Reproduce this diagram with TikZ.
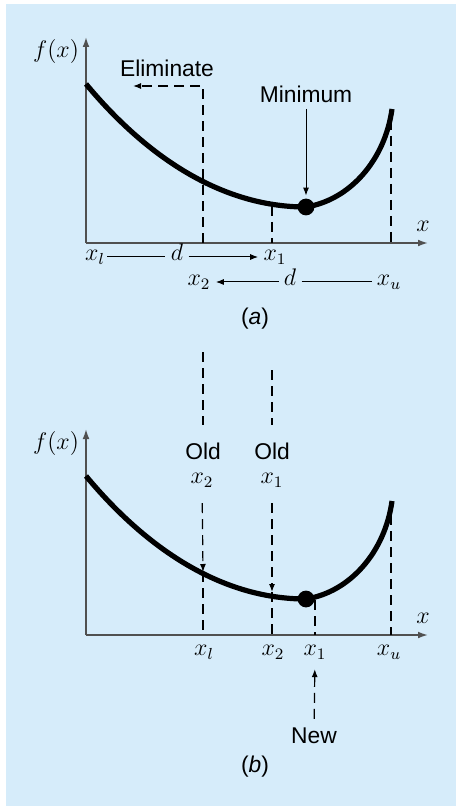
\documentclass[tikz,border=0pt]{standalone}
\usepackage{fontspec}
\setsansfont{Liberation Sans}
\usetikzlibrary{arrows.meta}
\definecolor{panel}{RGB}{214,236,250}
\definecolor{axis}{RGB}{80,80,80}

\begin{document}
\begin{tikzpicture}[x=0.5pt,y=-0.5pt,
    ax/.style={-{Latex[length=5pt,width=3.4pt]},line width=0.8pt,axis},
    crv/.style={line width=2.6pt,black},
    dsh/.style={dash pattern=on 5pt off 3pt,line width=0.6pt,black},
    thn/.style={line width=0.5pt,black},
    tip/.style={-{Latex[length=4pt,width=3pt]}},
    dot/.style={circle,fill=black,inner sep=0pt,minimum size=8.4pt},
    lbl/.style={font=\sffamily\fontsize{11.4}{13}\selectfont,inner sep=1pt},
    mth/.style={font=\fontsize{12}{14}\selectfont,inner sep=2.5pt,
                text height=6.5pt,text depth=2.8pt},
    pnl/.style={font=\sffamily\fontsize{11.4}{13}\selectfont}]

    \useasboundingbox (0,0) rectangle (456,806);
    \fill[white] (0,0) rectangle (456,806);
    \fill[panel] (6,4) rectangle (456,806);

    % (a)
    \coordinate (oa) at (86,243);
    \coordinate (ya) at (86,37);
    \coordinate (xa) at (428,243);
    \draw[ax] (oa) -- (ya);
    \draw[ax] (oa) -- (xa);
    \node[mth] (fa) at (56,54) {$f(x)$};
    \node[mth] (xxa) at (423,228) {$x$};

    \coordinate (e0) at (203,243);
    \coordinate (etip) at (133,86);
    \draw[dsh,tip] (e0) |- (etip);
    \coordinate (k1) at (272,206);
    \coordinate (k1b) at (272,243);
    \draw[dsh] (k1) -- (k1b);
    \coordinate (u0) at (391,120);
    \coordinate (u0b) at (391,243);
    \draw[dsh] (u0) -- (u0b);

    \coordinate (a0) at (86,84);
    \coordinate (a1) at (392,109);
    \node[dot] (mina) at (306,207) {};
    \draw[crv] (a0) .. controls (145,155) and (220,207) .. (mina.center)
        .. controls (350,200) and (385,160) .. (a1);

    \node[lbl] (elim) at (167,68) {Eliminate};
    \node[lbl] (mini) at (306,94) {Minimum};
    \draw[thn,tip,shorten <=2pt,shorten >=1.3pt] (mini) -- (mina);

    \node[mth,inner sep=1pt] (xl) at (95,257) {$x_l$};
    \node[mth] (d1) at (177,257) {$d$};
    \node[mth] (x1) at (275,257) {$x_1$};
    \draw[thn] (xl) -- (d1);
    \draw[thn,tip] (d1) -- (x1);
    \node[mth] (x2) at (199,282) {$x_2$};
    \node[mth] (d2) at (290,282) {$d$};
    \node[mth] (xu) at (389,282) {$x_u$};
    \draw[thn,tip] (d2) -- (x2);
    \draw[thn] (d2) -- (xu);

    \node[pnl] (capa) at (255,319) {(\textit{a})};

    % (b)
    \coordinate (ob) at (86,635);
    \coordinate (yb) at (86,429);
    \coordinate (xb) at (428,635);
    \draw[ax] (ob) -- (yb);
    \draw[ax] (ob) -- (xb);
    \node[mth] (fb) at (56,446) {$f(x)$};
    \node[mth] (xxb) at (423,620) {$x$};

    \coordinate (t2) at (203,352);
    \node[lbl] (old2) at (203,451) {Old};
    \node[mth] (o2) at (202,480) {$x_2$};
    \coordinate (c2) at (203,572);
    \coordinate (b2) at (203,635);
    \draw[dsh,shorten >=7.4pt] (t2) -- (old2);
    \draw[dsh,tip,shorten <=4.2pt] (o2) -- (c2);
    \draw[dsh] (c2) -- (b2);

    \coordinate (t1) at (272,370);
    \node[lbl] (old1) at (272,451) {Old};
    \node[mth] (o1) at (272,480) {$x_1$};
    \coordinate (c1) at (272,592);
    \coordinate (b1) at (272,635);
    \draw[dsh,shorten >=7.4pt] (t1) -- (old1);
    \draw[dsh,tip,shorten <=4.2pt] (o1) -- (c1);
    \draw[dsh] (c1) -- (b1);

    \coordinate (n0) at (315,600);
    \coordinate (n0b) at (315,635);
    \draw[dsh] (n0) -- (n0b);
    \coordinate (v0) at (391,515);
    \coordinate (v0b) at (391,635);
    \draw[dsh] (v0) -- (v0b);

    \coordinate (b0) at (86,476);
    \coordinate (bb1) at (392,501);
    \node[dot] (minb) at (306,599) {};
    \draw[crv] (b0) .. controls (145,547) and (220,599) .. (minb.center)
        .. controls (350,592) and (385,552) .. (bb1);

    \node[mth] (xlb) at (204,652) {$x_l$};
    \node[mth] (x2b) at (273,652) {$x_2$};
    \node[mth] (x1b) at (315,652) {$x_1$};
    \node[mth] (xub) at (389,652) {$x_u$};

    \node[lbl] (new) at (314,736) {New};
    \draw[dsh,tip,shorten <=3.4pt,shorten >=1.2pt] (new) -- (x1b);

    \node[pnl] (capb) at (255,767) {(\textit{b})};
\end{tikzpicture}
\end{document}
